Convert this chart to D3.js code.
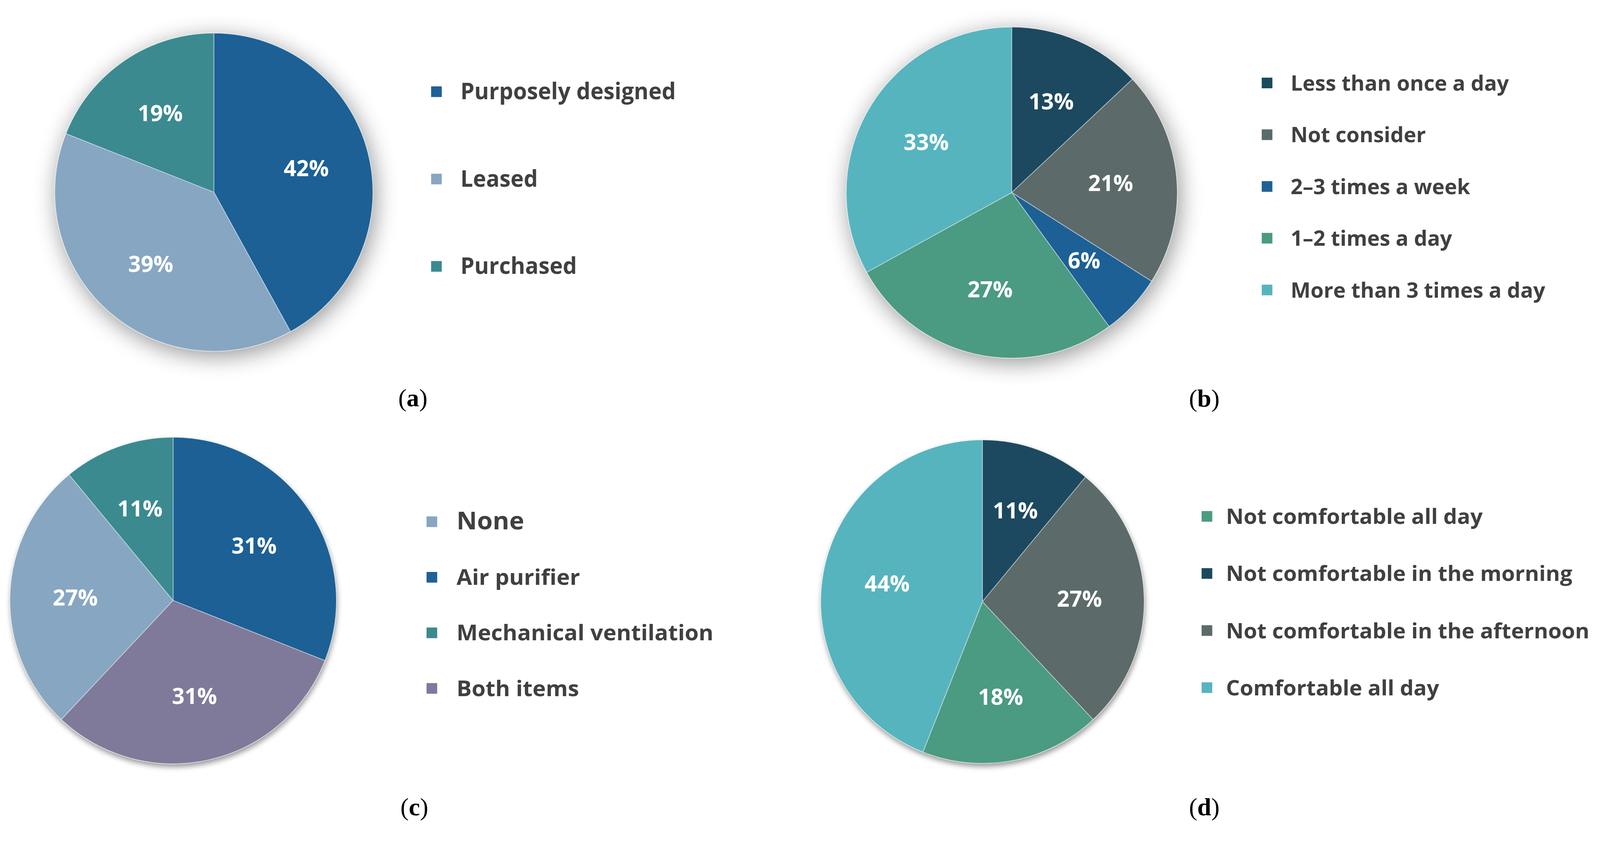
<!DOCTYPE html>
<html>
<head>
<meta charset="utf-8">
<script src="https://cdn.jsdelivr.net/npm/d3@7"></script>
<style>
  html, body { margin: 0; padding: 0; background: #ffffff; overflow: hidden; }
  svg { display: block; width: 100vw; height: calc(100vw * 2186 / 4205); }
</style>
</head>
<body>
<svg id="chart" viewBox="0 0 4205 2186" preserveAspectRatio="xMinYMin meet"></svg>
<script>
// ---------------- DATA ----------------
// (a) building type
const aCategories = ["Purposely designed", "Leased", "Purchased"];
const aValues = [42, 39, 19];
const aSliceOrder = ["Purposely designed", "Leased", "Purchased"];

// (b) window opening frequency
const bCategories = ["Less than once a day", "Not consider", "2\u20133 times a week", "1\u20132 times a day", "More than 3 times a day"];
const bValues = [13, 21, 6, 27, 33];
const bSliceOrder = ["Less than once a day", "Not consider", "2\u20133 times a week", "1\u20132 times a day", "More than 3 times a day"];

// (c) air cleaning equipment
const cCategories = ["None", "Air purifier", "Mechanical ventilation", "Both items"];
const cValues = [27, 31, 11, 31];
const cSliceOrder = ["Air purifier", "Both items", "None", "Mechanical ventilation"];

// (d) thermal comfort
const dCategories = ["Not comfortable all day", "Not comfortable in the morning", "Not comfortable in the afternoon", "Comfortable all day"];
const dValues = [18, 11, 27, 44];
const dSliceOrder = ["Not comfortable in the morning", "Not comfortable in the afternoon", "Not comfortable all day", "Comfortable all day"];

const panelTags = ["a", "b", "c", "d"];

// ---------------- STYLE ----------------
const colorMap = {
  "Purposely designed": "#1f6195",
  "Leased": "#87a6c2",
  "Purchased": "#3a8a8f",
  "Less than once a day": "#1b4a5e",
  "Not consider": "#5b6a6a",
  "2\u20133 times a week": "#1f6195",
  "1\u20132 times a day": "#4b9a82",
  "More than 3 times a day": "#57b4bf",
  "None": "#87a6c2",
  "Air purifier": "#1f6195",
  "Mechanical ventilation": "#3a8a8f",
  "Both items": "#7f7a99",
  "Not comfortable all day": "#4b9a82",
  "Not comfortable in the morning": "#1b4a5e",
  "Not comfortable in the afternoon": "#5b6a6a",
  "Comfortable all day": "#57b4bf"
};

const panels = [
  { tag: panelTags[0], cats: aCategories, vals: aValues, order: aSliceOrder,
    cx: 562, cy: 505, r: 418, shadow: "wide",
    legend: { sqX: 1133, textX: 1210, y0: 261, step: 229.5, fs: 61, longest: 566 },
    tagX: 1085, tagY: 1068 },
  { tag: panelTags[1], cats: bCategories, vals: bValues, order: bSliceOrder,
    cx: 2659, cy: 506, r: 435, shadow: "wide",
    legend: { sqX: 3316, textX: 3392, y0: 238, step: 136, fs: 56, longest: 669 },
    tagX: 3165, tagY: 1069 },
  { tag: panelTags[2], cats: cCategories, vals: cValues, order: cSliceOrder,
    cx: 455, cy: 1578, r: 429, shadow: "tight",
    legend: { sqX: 1121, textX: 1200, y0: 1391, step: 146, fs: 57, longest: 675 },
    tagX: 1089, tagY: 2143 },
  { tag: panelTags[3], cats: dCategories, vals: dValues, order: dSliceOrder,
    cx: 2582, cy: 1581, r: 425, shadow: "tight",
    legend: { sqX: 3158, textX: 3222, y0: 1377, step: 150, fs: 56, longest: 955 },
    tagX: 3165, tagY: 2143 }
];

const svg = d3.select("#chart");
const defs = svg.append("defs");

function makeShadow(id, std, dx, dy, slope) {
  const f = defs.append("filter").attr("id", id)
    .attr("x", "-35%").attr("y", "-35%").attr("width", "170%").attr("height", "170%");
  f.append("feGaussianBlur").attr("in", "SourceAlpha").attr("stdDeviation", std).attr("result", "blur");
  f.append("feOffset").attr("in", "blur").attr("dx", dx).attr("dy", dy).attr("result", "off");
  f.append("feComponentTransfer").attr("in", "off").attr("result", "shadow")
    .append("feFuncA").attr("type", "linear").attr("slope", slope);
  const fm = f.append("feMerge");
  fm.append("feMergeNode").attr("in", "shadow");
  fm.append("feMergeNode").attr("in", "SourceGraphic");
}
makeShadow("shadow-wide", 30, 6, 12, 0.42);
makeShadow("shadow-tight", 7, 2, 8, 0.4);

const FONT = "'Open Sans', 'Noto Sans', sans-serif";

panels.forEach(p => {
  const data = p.cats.map((c, i) => ({ cat: c, value: p.vals[i] }));
  const pie = d3.pie()
    .value(d => d.value)
    .sort((a, b) => p.order.indexOf(a.cat) - p.order.indexOf(b.cat));
  const arcs = pie(data);
  const arc = d3.arc().innerRadius(0).outerRadius(p.r);
  const labelArc = d3.arc().innerRadius(p.r * 0.6).outerRadius(p.r * 0.6);

  const g = svg.append("g").attr("transform", `translate(${p.cx},${p.cy})`);
  const pg = g.append("g").attr("filter", `url(#shadow-${p.shadow})`);
  pg.selectAll("path").data(arcs).enter().append("path")
    .attr("d", arc)
    .attr("fill", d => colorMap[d.data.cat])
    .attr("stroke", "#ffffff")
    .attr("stroke-opacity", 0.45)
    .attr("stroke-width", 2);

  g.selectAll("text.pct").data(arcs).enter().append("text")
    .attr("class", "pct")
    .attr("transform", d => `translate(${labelArc.centroid(d)})`)
    .attr("text-anchor", "middle")
    .attr("dy", "0.36em")
    .attr("font-family", FONT)
    .attr("font-weight", 700)
    .attr("font-size", 58)
    .attr("fill", "#ffffff")
    .text(d => d.data.value + "%");

  // legend
  const lg = svg.append("g");
  const items = lg.selectAll("g.item").data(data).enter().append("g").attr("class", "item");
  items.append("rect")
    .attr("x", p.legend.sqX)
    .attr("y", (d, i) => p.legend.y0 + i * p.legend.step - 20 - 14)
    .attr("width", 28).attr("height", 28)
    .attr("fill", d => colorMap[d.cat]);
  const texts = items.append("text")
    .attr("x", p.legend.textX)
    .attr("y", (d, i) => p.legend.y0 + i * p.legend.step)
    .attr("font-family", FONT)
    .attr("font-weight", 700)
    .attr("font-size", d => d.cat === "None" ? p.legend.fs + 7 : p.legend.fs)
    .attr("fill", "#404040")
    .text(d => d.cat);
  // condense to match the narrow legend face of the original
  let maxLen = 0;
  texts.each(function () { maxLen = Math.max(maxLen, this.getComputedTextLength()); });
  const k = p.legend.longest / maxLen;
  texts.each(function () {
    const len = this.getComputedTextLength();
    d3.select(this).attr("textLength", len * k).attr("lengthAdjust", "spacingAndGlyphs");
  });

  // panel tag
  const t = svg.append("text")
    .attr("x", p.tagX).attr("y", p.tagY)
    .attr("text-anchor", "middle")
    .attr("font-family", "'Liberation Serif', 'DejaVu Serif', serif")
    .attr("font-size", 66)
    .attr("fill", "#000000");
  t.append("tspan").text("(");
  t.append("tspan").attr("font-weight", 700).text(p.tag);
  t.append("tspan").text(")");
});
</script>
</body>
</html>
